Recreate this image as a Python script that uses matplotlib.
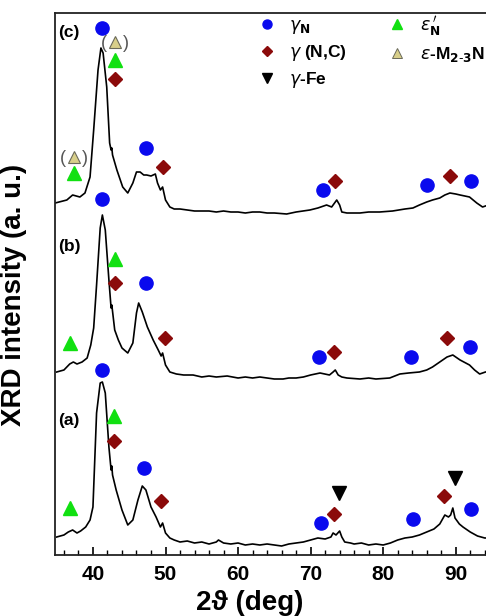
import matplotlib
matplotlib.use("Agg")
import matplotlib.pyplot as plt
from matplotlib.lines import Line2D
from matplotlib.ticker import MultipleLocator

plt.rcParams['font.family'] = ['Liberation Sans', 'DejaVu Sans']
plt.rcParams['mathtext.fontset'] = 'dejavusans'

# ---- data: 2theta (deg) and stacked intensity (a.u.) ----
a_x = [35, 36, 36.6, 37.2, 37.8, 38.3, 39, 39.6, 40, 40.5, 41, 41.3, 41.7, 42.2, 42.5, 42.6, 42.7,
       43.2, 44, 44.8, 45.5, 46.2, 46.8, 47.3, 48, 48.7, 49.3, 49.6, 50, 50.6, 51.2, 52, 53, 54, 55,
       56, 57, 57.3, 58, 59, 60, 61, 62, 63, 64, 65, 66, 67, 68, 69, 70, 71, 72, 72.8, 73.1, 73.5,
       74, 74.3, 74.7, 75.5, 76, 77, 78, 79, 80, 81, 82, 83, 84, 85, 86, 87, 87.8, 88.5, 89, 89.3,
       89.6, 89.9, 90.5, 91, 92, 93, 94, 95]
a_y = [18, 20, 23, 25, 22, 24, 28, 35, 48, 142, 172, 173, 162, 108, 85, 89, 80,
       65, 45, 30, 35, 55, 69, 65, 48, 38, 28, 32, 22, 17, 15, 13, 14, 12, 13,
       11, 13, 15, 12, 11, 12, 10, 11, 10, 11, 10, 9, 11, 12, 13, 15, 17, 16, 18, 22, 20,
       24, 18, 13, 12, 11, 12, 10, 11, 10, 12, 15, 17, 18, 20, 23, 26, 31, 40, 38, 40,
       47, 37, 31, 28, 23, 19, 17, 17]

b_x = [35, 36, 36.8, 37.3, 37.8, 38.5, 39.2, 39.7, 40.1, 40.5, 41, 41.3, 41.7, 42.2, 42.5, 42.6,
       43, 43.5, 44, 44.8, 45.5, 46, 46.3, 46.8, 47.5, 48.3, 49, 49.4, 49.6, 50, 50.6, 51.5, 52.5,
       53.8, 55, 56, 57, 58.5, 60, 61, 62, 63, 64, 65, 66.2, 67, 68, 69, 70, 71.3, 72.6, 73.1,
       73.4, 73.8, 74.3, 75, 76.8, 78, 79, 80.9, 82.3, 83.5, 85, 86, 86.8, 87.8, 88.8, 89.6, 90.6,
       91.9, 92.6, 93.3, 94.1, 95]
b_y = [183, 185, 191, 193, 191, 193, 197, 210, 227, 270, 327, 340, 325, 275, 247, 250,
       225, 215, 207, 202, 212, 242, 252, 243, 228, 215, 205, 199, 202, 190, 183, 181, 180,
       180, 178, 179, 178, 179, 177, 178, 177, 178, 177, 176, 176, 177, 177, 178, 180, 182, 180, 183,
       185, 180, 178, 177, 176, 177, 176, 177, 181, 182, 183, 185, 188, 193, 198, 200, 195,
       190, 185, 181, 183, 183]

c_x = [34.8, 36.4, 37.2, 38.2, 38.9, 39.6, 40.1, 40.7, 41.1, 41.4, 41.9, 42.3, 42.5, 42.6, 42.7,
       43.3, 44.1, 44.8, 45.5, 46.0, 46.5, 47.0, 47.4, 48.0, 48.6, 48.9, 49.3, 49.6, 50.0, 50.6,
       51.2, 52, 53, 54, 55, 56, 57, 58, 59, 60, 61, 62, 63, 64, 65, 66.7, 68, 69.9, 71, 72.2,
       72.9, 73.3, 73.6, 74.0, 74.3, 75, 76.8, 78, 79.5, 81.3, 83, 84.1, 85, 86, 86.8, 87.8, 88.5,
       89.2, 90, 90.6, 91.9, 92.9, 93.7, 94.5, 95]
c_y = [352, 355, 360, 358, 362, 378, 425, 485, 507, 502, 468, 412, 405, 407, 400,
       385, 368, 362, 372, 383, 383, 380, 380, 379, 381, 372, 365, 368, 355, 348,
       346, 346, 345, 344, 344, 344, 343, 344, 343, 343, 342, 343, 343, 342, 342, 341, 343, 345, 347, 350,
       348, 352, 355, 350, 343, 342, 342, 343, 343, 344, 346, 347, 350, 353, 355, 357, 360,
       362, 361, 360, 358, 352, 348, 350, 350]

# phase markers (2theta, stacked height)
gN_x = [41.2, 47.3, 71.7, 86.0, 92.1, 41.2, 47.3, 71.1, 83.9, 91.9, 41.2, 47.0, 71.5, 84.1, 92.1]
gN_y = [527, 407, 365, 370, 374, 356, 272, 198, 198, 208, 185, 87, 32, 36, 46]
gNC_x = [43.0, 49.6, 73.3, 89.2, 43.0, 49.9, 73.2, 88.8, 42.9, 49.4, 73.2, 88.4]
gNC_y = [476, 388, 374, 379, 272, 217, 203, 217, 114, 54, 41, 59]
eN_x = [37.4, 43.0, 36.8, 43.0, 36.8, 42.9]
eN_y = [382, 495, 212, 296, 47, 139]
eM_x = [37.4, 43.0]
eM_y = [398, 513]
gFe_x = [73.9, 89.9]
gFe_y = [62, 77]

panel_labels = ['(a)', '(b)', '(c)']
panel_label_y = [135, 308, 523]

xticks = [40, 50, 60, 70, 80, 90]

c_blue = '#0a0aee'
c_red = '#8b0a0a'
c_green = '#11e011'
c_khaki = '#d8cf8a'

fig = plt.figure(figsize=(4.86, 6.16), dpi=100)
ax = fig.add_axes([55 / 486, 61 / 616, 437 / 486, 542 / 616])

for xs, ys in [(a_x, a_y), (b_x, b_y), (c_x, c_y)]:
    ax.plot(xs, ys, color='black', lw=1.2)

ax.plot(gN_x, gN_y, 'o', color=c_blue, ms=9.5, ls='none')
ax.plot(gNC_x, gNC_y, 'D', color=c_red, ms=7, ls='none')
ax.plot(eN_x, eN_y, '^', color=c_green, ms=10, ls='none')
ax.plot(eM_x, eM_y, '^', color=c_khaki, mec='#6a6a5a', mew=0.8, ms=9, ls='none')
ax.plot(gFe_x, gFe_y, 'v', color='black', ms=10, ls='none')
for x, y in zip(eM_x, eM_y):
    ax.annotate('(', xy=(x, y), xytext=(-8.0, -1), textcoords='offset points',
                ha='center', va='center', fontsize=13, color='#555555')
    ax.annotate(')', xy=(x, y), xytext=(8.0, -1), textcoords='offset points',
                ha='center', va='center', fontsize=13, color='#555555')

for lab, y in zip(panel_labels, panel_label_y):
    ax.text(35.2, y, lab, ha='left', va='center', fontsize=12.5, fontweight='bold')

ax.set_xlim(34.77, 95)
ax.set_ylim(0, 542)
ax.set_xticks(xticks)
ax.xaxis.set_minor_locator(MultipleLocator(2))
ax.tick_params(axis='x', which='major', direction='in', length=6, width=1.2,
               labelsize=15, pad=7, top=False)
ax.tick_params(axis='x', which='minor', direction='in', length=3.5, width=1.0, top=False)
for t in ax.get_xticklabels():
    t.set_fontweight('bold')
ax.set_yticks([])
for s in ax.spines.values():
    s.set_linewidth(1.3)
    s.set_color('#222222')

ax.set_xlabel('2ϑ (deg)', fontsize=20, fontweight='bold')
ax.xaxis.set_label_coords(0.446, -0.065)
ax.set_ylabel('XRD intensity (a. u.)', fontsize=20, fontweight='bold')
ax.yaxis.set_label_coords(-0.064, 0.48)

handles = [
    Line2D([], [], marker='o', color=c_blue, ls='none', ms=6.5),
    Line2D([], [], marker='D', color=c_red, ls='none', ms=5),
    Line2D([], [], marker='v', color='black', ls='none', ms=7),
    Line2D([], [], marker='^', color=c_green, ls='none', ms=7.5),
    Line2D([], [], marker='^', color=c_khaki, mec='#6a6a5a', mew=0.7, ls='none', ms=7),
]
labels = [r'$\gamma_{\mathbf{N}}$', r'$\gamma$ (N,C)', r'$\gamma$-Fe',
          r"$\varepsilon_{\mathbf{N}}^{\,\prime}$", r'$\varepsilon$-M$_{\mathbf{2\text{-}3}}$N']
leg = ax.legend(handles, labels, ncol=2, loc='upper left',
                bbox_to_anchor=(258 / 486, 1 - 14 / 616), bbox_transform=fig.transFigure,
                frameon=False, fontsize=12.5, handlelength=1.0, handletextpad=0.8,
                columnspacing=2.4, labelspacing=0.4, borderpad=0, borderaxespad=0)
for t in leg.get_texts():
    t.set_fontweight('bold')

fig.savefig('out.png', dpi=100)
